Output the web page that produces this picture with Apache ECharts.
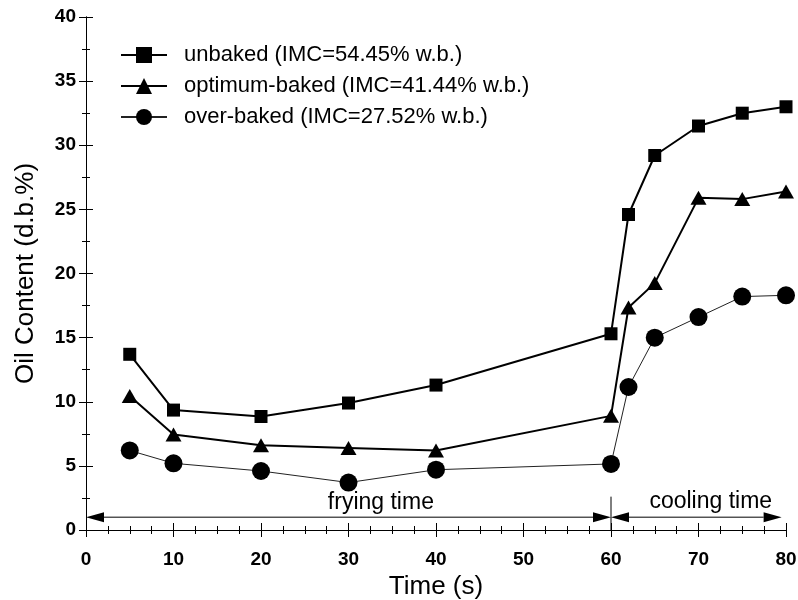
<!DOCTYPE html>
<html>
<head>
<meta charset="utf-8">
<script src="https://cdn.jsdelivr.net/npm/echarts@6/dist/echarts.min.js"></script>
<style>html,body{margin:0;padding:0;background:#fff}#c{width:798px;height:600px}</style>
</head>
<body>
<div id="c"></div>
<script>
var times = [5, 10, 20, 30, 40, 60, 62, 65, 70, 75, 80];
var unbaked = [13.7, 9.35, 8.85, 9.9, 11.3, 15.3, 24.6, 29.2, 31.5, 32.5, 33.0];
var optimumBaked = [10.45, 7.45, 6.6, 6.4, 6.2, 8.9, 17.35, 19.25, 25.9, 25.8, 26.4];
var overBaked = [6.2, 5.2, 4.6, 3.7, 4.7, 5.15, 11.15, 15.0, 16.6, 18.2, 18.3];
var seriesNames = ['unbaked (IMC=54.45% w.b.)', 'optimum-baked (IMC=41.44% w.b.)', 'over-baked (IMC=27.52% w.b.)'];
// arrows: [fromX, toX, y]
var arrows = [[0, 60, 1.0], [60, 79.5, 1.0]];
var divider = [60, 0, 2.6];
var notes = [[33.7, 2.1, 'frying time'], [71.4, 2.2, 'cooling time']];

function pairs(ys) { return times.map(function (t, i) { return [t, ys[i]]; }); }

var font = '"Liberation Sans", Arial, sans-serif';
var axisCommon = {
  type: 'value',
  axisLine: { show: true, lineStyle: { color: '#000', width: 1 } },
  axisTick: { show: true, inside: false, length: 7, lineStyle: { color: '#000', width: 1 } },
  minorTick: { show: true, length: 4, lineStyle: { color: '#000', width: 1 } },
  splitLine: { show: false }
};

var chart = echarts.init(document.getElementById('c'));
chart.setOption({
  animation: false,
  backgroundColor: '#fff',
  grid: { left: 86, right: 12, top: 17, bottom: 70, containLabel: false, outerBoundsMode: 'none' },
  legend: {
    orient: 'vertical', left: 120, top: 44, padding: 0,
    itemWidth: 46, itemHeight: 20, itemGap: 9,
    textStyle: { fontFamily: font, fontSize: 22, color: '#000', padding: [0, 0, 0, 12] },
    data: seriesNames
  },
  xAxis: [
    Object.assign({}, axisCommon, {
      position: 'bottom', min: 0, max: 80, interval: 10,
      minorTick: Object.assign({}, axisCommon.minorTick, { splitNumber: 4 }),
      axisLabel: { fontFamily: font, fontSize: 19, fontWeight: 'bold', color: '#000', margin: 20 },
      name: 'Time (s)', nameLocation: 'middle', nameGap: 44,
      nameTextStyle: { fontFamily: font, fontSize: 26, color: '#000' }
    }),
    Object.assign({}, axisCommon, {
      position: 'top', min: 0, max: 80, interval: 10,
      minorTick: Object.assign({}, axisCommon.minorTick, { splitNumber: 4 }),
      axisLabel: { show: false }
    })
  ],
  yAxis: [
    Object.assign({}, axisCommon, {
      position: 'left', min: 0, max: 40, interval: 5,
      minorTick: Object.assign({}, axisCommon.minorTick, { splitNumber: 2 }),
      axisLabel: { fontFamily: font, fontSize: 19, fontWeight: 'bold', color: '#000', margin: 10 },
      name: 'Oil Content (d.b.%)', nameLocation: 'middle', nameGap: 47,
      nameTextStyle: { fontFamily: font, fontSize: 26, color: '#000' }
    }),
    Object.assign({}, axisCommon, {
      position: 'right', min: 0, max: 40, interval: 5,
      minorTick: Object.assign({}, axisCommon.minorTick, { splitNumber: 2 }),
      axisLabel: { show: false }
    })
  ],
  series: [
    {
      name: seriesNames[0], type: 'line', data: pairs(unbaked),
      symbol: 'rect', symbolSize: 13,
      lineStyle: { color: '#000', width: 2 }, itemStyle: { color: '#000' }
    },
    {
      name: seriesNames[1], type: 'line', data: pairs(optimumBaked),
      symbol: 'triangle', symbolSize: [16, 14],
      lineStyle: { color: '#000', width: 2 }, itemStyle: { color: '#000' }
    },
    {
      name: seriesNames[2], type: 'line', data: pairs(overBaked),
      symbol: 'circle', symbolSize: 18,
      lineStyle: { color: '#222', width: 1 }, itemStyle: { color: '#000' }
    },
    {
      type: 'custom', silent: true, data: arrows,
      renderItem: function (params, api) {
        var p1 = api.coord([api.value(0), api.value(2)]);
        var p2 = api.coord([api.value(1), api.value(2)]);
        var L = 18, H = 5;
        return {
          type: 'group', children: [
            { type: 'line', shape: { x1: p1[0] + L, y1: p1[1], x2: p2[0] - L, y2: p2[1] }, style: { stroke: '#000', lineWidth: 1 } },
            { type: 'polygon', shape: { points: [[p1[0], p1[1]], [p1[0] + L, p1[1] - H], [p1[0] + L, p1[1] + H]] }, style: { fill: '#000' } },
            { type: 'polygon', shape: { points: [[p2[0], p2[1]], [p2[0] - L, p2[1] - H], [p2[0] - L, p2[1] + H]] }, style: { fill: '#000' } }
          ]
        };
      }
    },
    {
      type: 'custom', silent: true, data: [divider],
      renderItem: function (params, api) {
        var a = api.coord([api.value(0), api.value(1)]);
        var b = api.coord([api.value(0), api.value(2)]);
        return { type: 'line', shape: { x1: a[0], y1: a[1], x2: b[0], y2: b[1] }, style: { stroke: '#000', lineWidth: 1 } };
      }
    },
    {
      type: 'custom', silent: true, data: notes,
      renderItem: function (params, api) {
        var p = api.coord([api.value(0), api.value(1)]);
        return { type: 'text', x: p[0], y: p[1], style: { text: notes[params.dataIndex][2], font: '23px ' + font, fill: '#000', align: 'center', verticalAlign: 'middle' } };
      }
    }
  ]
});
</script>
</body>
</html>
